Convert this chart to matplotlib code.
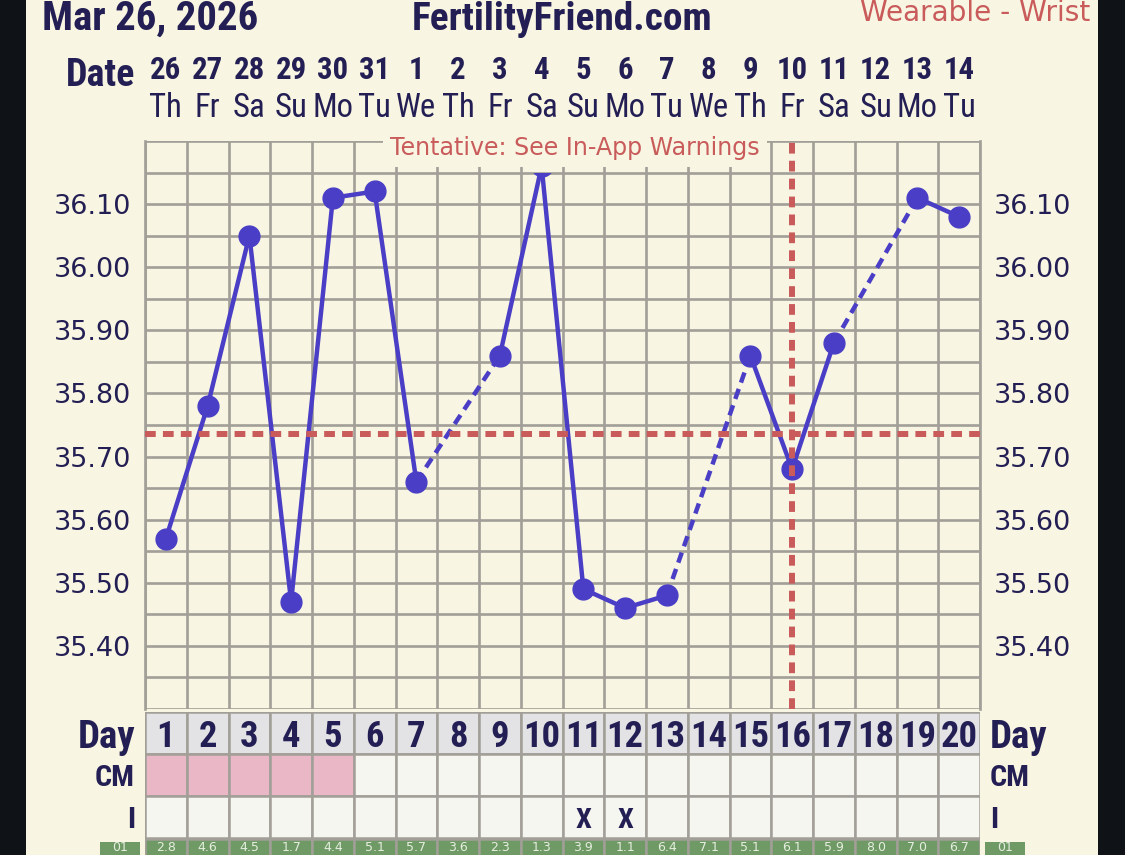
import os
import matplotlib.pyplot as plt
from matplotlib import font_manager
from matplotlib.font_manager import FontProperties
from matplotlib.textpath import TextPath
from matplotlib.patches import Rectangle
import numpy as np

# chart data
days = list(range(1, 21))
dates = ['26', '27', '28', '29', '30', '31', '1', '2', '3', '4',
         '5', '6', '7', '8', '9', '10', '11', '12', '13', '14']
weekdays = ['Th', 'Fr', 'Sa', 'Su', 'Mo', 'Tu', 'We', 'Th', 'Fr', 'Sa',
            'Su', 'Mo', 'Tu', 'We', 'Th', 'Fr', 'Sa', 'Su', 'Mo', 'Tu']
temps = [35.57, 35.78, 36.05, 35.47, 36.11, 36.12, 35.66, None, 35.86, 36.16,
         35.49, 35.46, 35.48, None, 35.86, 35.68, 35.88, None, 36.11, 36.08]
coverline = 35.735
ovulation_day = 16
cm_days = [1, 2, 3, 4, 5]
intercourse_days = [11, 12]
q1_values = ['2.8', '4.6', '4.5', '1.7', '4.4', '5.1', '5.7', '3.6', '2.3', '1.3',
             '3.9', '1.1', '6.4', '7.1', '5.1', '6.1', '5.9', '8.0', '7.0', '6.7']
temp_top = 36.20
temp_bottom = 35.30
temp_clip = 36.15

W, H = 1125, 855
cream = '#f8f5e2'
dark = '#0f1216'
navy = '#231f54'
grid_gray = '#a19f97'
blue = '#4a3ec6'
red = '#c95b5b'
pink = '#e9b7c6'
cell = '#f6f6f1'
day_cell = '#e3e3e5'
green = '#6f9a66'
green_text = '#e6eedf'


def narrow_fonts():
    files = {os.path.basename(f.fname).lower(): f.fname for f in font_manager.fontManager.ttflist}
    pairs = [('liberationsansnarrow-bold.ttf', 'liberationsansnarrow-regular.ttf'),
             ('robotocondensed-bold.ttf', 'robotocondensed-regular.ttf'),
             ('dejavusanscondensed-bold.ttf', 'dejavusanscondensed.ttf'),
             ('notosans-condensedbold.ttf', 'notosans-condensed.ttf'),
             ('opensans-condensedbold.ttf', 'opensans-condensedlight.ttf')]
    for b, r in pairs:
        if b in files:
            reg = FontProperties(fname=files[r]) if r in files else FontProperties(family='DejaVu Sans')
            return FontProperties(fname=files[b]), reg
    return FontProperties(family='Roboto', weight='bold'), FontProperties(family='DejaVu Sans')


bold_fp, reg_fp = narrow_fonts()
plain_fp = FontProperties(family='DejaVu Sans')


def sized(fp, text, width_px):
    # font size that gives the text the wanted ink width
    w = TextPath((0, 0), text, size=10, prop=fp).get_extents().width
    p = fp.copy()
    p.set_size(10 * width_px * 0.72 / w)
    return p


fig = plt.figure(figsize=(W / 100, H / 100), dpi=100)
fig.patch.set_facecolor(dark)
fig.patches.append(Rectangle((26 / W, 0), (1098 - 26) / W, 1, transform=fig.transFigure,
                             facecolor=cream, edgecolor='none', zorder=-5))

# header
fig.text(42 / W, 1 - 30 / H, 'Mar 26, 2026', fontproperties=sized(bold_fp, 'Mar 26, 2026', 212),
         color=navy, ha='left', va='baseline')
fig.text(562 / W, 1 - 30 / H, 'FertilityFriend.com',
         fontproperties=sized(bold_fp, 'FertilityFriend.com', 296),
         color=navy, ha='center', va='baseline')
fig.text(1090 / W, 1 - 21 / H, 'Wearable - Wrist', fontproperties=sized(plain_fp, 'Wearable - Wrist', 230),
         color=red, ha='right', va='baseline')

# temperature grid
ax = fig.add_axes([145 / W, 1 - 709 / H, 835 / W, 568 / H])
ax.set_facecolor('none')
ax.set_xlim(0.5, 20.5)
ax.set_ylim(temp_bottom, temp_top)
ax.set_xticks(np.arange(0.5, 21, 1))
levels = np.round(np.arange(temp_bottom, temp_top + 0.001, 0.05), 2)
ax.set_yticks(levels)
ax.set_yticklabels(['{:.2f}'.format(v) if 35.39 < v < 36.11 and int(round(v * 100)) % 10 == 0 else ''
                    for v in levels])
ax.grid(True, color=grid_gray, lw=1.9, zorder=1)
ax.set_axisbelow(True)
ax.tick_params(axis='x', length=0, labelbottom=False)
ax.tick_params(axis='y', length=0, labelleft=True, labelright=True, pad=10,
               labelsize=19.5, labelcolor=navy)
for side in ['top', 'bottom']:
    ax.spines[side].set_visible(False)
for side in ['left', 'right']:
    ax.spines[side].set_color(grid_gray)
    ax.spines[side].set_linewidth(1.9)

clip = Rectangle((0.5, temp_bottom), 20, temp_clip - temp_bottom, transform=ax.transData)
known = [(d, t) for d, t in zip(days, temps) if t is not None]
for (d0, t0), (d1, t1) in zip(known[:-1], known[1:]):
    ls = '-' if d1 - d0 == 1 else (0, (2.4, 1.5))
    seg, = ax.plot([d0, d1], [t0, t1], color=blue, lw=3.2, ls=ls, zorder=3)
    seg.set_clip_path(clip)
pts, = ax.plot([k[0] for k in known], [k[1] for k in known], 'o', ms=15, color=blue, zorder=4)
pts.set_clip_path(clip)

ax.axhline(coverline, color=red, lw=4.3, ls=(0, (1.8, 1.2)), zorder=5)
ax.axvline(ovulation_day, color=red, lw=4.3, ls=(0, (1.8, 1.2)), zorder=5)

ax.annotate('Tentative: See In-App Warnings', xy=(0.515, 1), xycoords='axes fraction',
            xytext=(0, -7), textcoords='offset pixels', ha='center', va='center',
            fontproperties=sized(plain_fp, 'Tentative: See In-App Warnings', 370), color=red, zorder=6,
            bbox=dict(boxstyle='square,pad=0.3', facecolor=cream, edgecolor='none'))

# date header rows
date_fp = sized(bold_fp, '26', 29)
wd_fp = sized(reg_fp, 'Mo', 37)
for d, dt, wd in zip(days, dates, weekdays):
    ax.annotate(dt, xy=(d, H - 79), xycoords=('data', 'figure pixels'), ha='center',
                va='baseline', fontproperties=date_fp, color=navy)
    ax.annotate(wd, xy=(d, H - 117), xycoords=('data', 'figure pixels'), ha='center',
                va='baseline', fontproperties=wd_fp, color=navy)
fig.text(135 / W, 1 - 86 / H, 'Date', fontproperties=sized(bold_fp, 'Date', 66),
         color=navy, ha='right', va='baseline')

# bottom table
tax = fig.add_axes([145 / W, 0, 835 / W, (H - 712) / H])
tax.set_xlim(0.5, 20.5)
tax.set_ylim((H - 712) / 42.0, 0)
tax.axis('off')

tax.bar(days, 1, bottom=0, width=1, color=day_cell, edgecolor=grid_gray, lw=1.8)
tax.bar(days, 1, bottom=1, width=1, color=[pink if d in cm_days else cell for d in days],
        edgecolor=grid_gray, lw=1.8)
tax.bar(days, 1, bottom=2, width=1, color=cell, edgecolor=grid_gray, lw=1.8)
tax.bar(days, 1, bottom=3.02, width=1, color=green, edgecolor=grid_gray, lw=1.8)

day_fp = sized(bold_fp, '20', 34)
for d in days:
    tax.text(d, 0.5, str(d), ha='center', va='center_baseline', fontproperties=day_fp, color=navy)
x_fp = sized(bold_fp, 'X', 15)
for d in intercourse_days:
    tax.text(d, 2.5, 'X', ha='center', va='center_baseline', fontproperties=x_fp, color=navy)
q_fp = plain_fp.copy()
q_fp.set_size(9)
for d, q in zip(days, q1_values):
    tax.text(d, 3.38, q, ha='center', va='bottom', fontproperties=q_fp, color=green_text)

row_labels = ['Day', 'CM', 'I']
label_fps = [sized(bold_fp, 'Day', 55), sized(bold_fp, 'CM', 37), sized(bold_fp, 'CM', 37)]
for i, (lab, fp) in enumerate(zip(row_labels, label_fps)):
    tax.annotate(lab, xy=(0.5, i + 0.5), xytext=(-10, 0), textcoords='offset pixels',
                 ha='right', va='center_baseline', fontproperties=fp, color=navy)
    tax.annotate(lab, xy=(20.5, i + 0.5), xytext=(10, 0), textcoords='offset pixels',
                 ha='left', va='center_baseline', fontproperties=fp, color=navy)

# "01" tags beside the green row
for x0 in [100, 985]:
    fig.patches.append(Rectangle((x0 / W, 0), 40 / W, 13 / H, transform=fig.transFigure,
                                 facecolor=green, edgecolor='none', zorder=1))
    fig.text((x0 + 20) / W, 1 / H, '01', ha='center', va='bottom', fontproperties=q_fp,
             color=green_text, zorder=2)

fig.savefig('out.png', dpi=100, facecolor=fig.get_facecolor())
